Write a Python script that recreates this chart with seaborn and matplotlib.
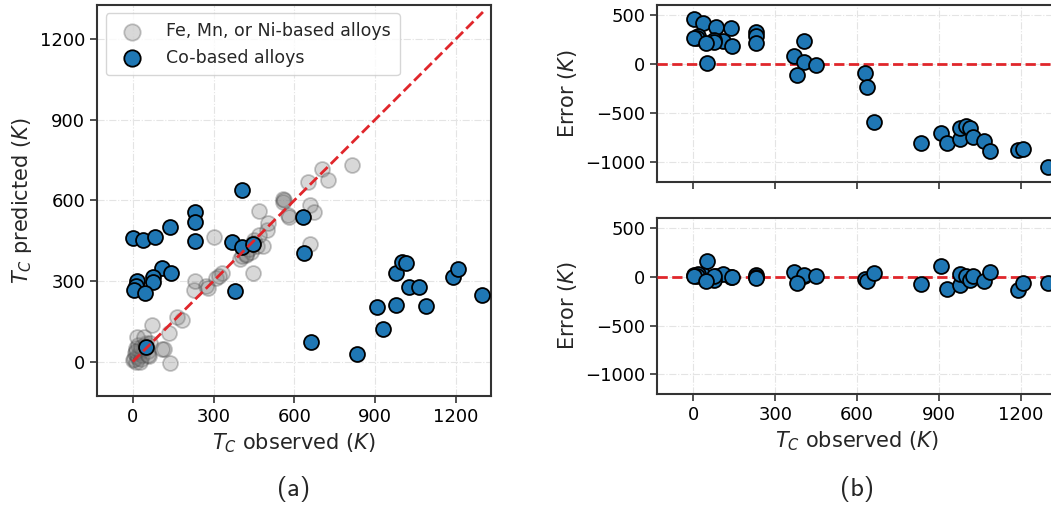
import numpy as np
import pandas as pd
import matplotlib
matplotlib.use("Agg")
import matplotlib.pyplot as plt
import seaborn as sns

# ---------------- data ----------------
# Co-based alloys: observed Tc, predicted Tc (model a), error of refined model (b, bottom)
co_obs = [2, 37, 83, 138, 231, 231, 231, 405, 367, 405, 448, 630, 637, 108, 142,
          76, 75, 16, 12, 4, 45, 380, 49, 661, 834, 908, 928, 976, 977, 998,
          1014, 1025, 1064, 1087, 1190, 1209, 1298]
co_pred = [459, 452, 462, 500, 555, 520, 449, 638, 446, 427, 437, 539, 403, 347, 329,
           316, 297, 300, 281, 266, 254, 264, 56, 71, 27, 202, 121, 211, 329, 372,
           368, 279, 277, 207, 316, 343, 248]
co_err2 = [17, 20, 7, 0, 17, 0, -10, 7, 51, 20, 7, -20, -45, 24, -5,
           -33, 5, 25, 10, 5, -45, -67, 162, 34, -77, 111, -124, -84, 27, 10,
           -33, 7, -40, 51, -134, -67, -67]

# Fe, Mn, or Ni-based alloys
fe_obs = [0, 5, 10, 15, 20, 8, 25, 30, 35, 40, 12, 20, 45, 55, 60, 30, 50, 16, 40, 65,
          72, 134, 115, 137, 164, 183, 108, 226, 232, 272, 278, 301, 307, 331, 320,
          398, 405, 420, 439, 445, 451, 460, 482, 497, 503, 468, 557, 557, 575, 562,
          581, 656, 674, 656, 650, 701, 724, 812, 430, 445, 470, 420, 25, 10, 55]
fe_pred = [5, 10, 0, 20, 15, 30, 35, 10, 25, 45, 50, 60, 60, 40, 20, 55, 70, 90, 93, 68,
           136, 106, 48, -6, 167, 155, 46, 267, 300, 281, 274, 465, 310, 329, 320,
           381, 391, 400, 407, 331, 452, 430, 428, 490, 514, 561, 604, 595, 545, 601,
           537, 583, 556, 436, 669, 715, 677, 731, 420, 440, 470, 395, 0, 40, 25]

xticks = [0, 300, 600, 900, 1200]
yticks_a = [0, 300, 600, 900, 1200]
yticks_b = [-1000, -500, 0, 500]

co = pd.DataFrame({"obs": co_obs, "pred": co_pred})
co["err1"] = co["pred"] - co["obs"]
co["err2"] = co_err2
fe = pd.DataFrame({"obs": fe_obs, "pred": fe_pred})

# ---------------- style ----------------
sns.set_style("ticks")
plt.rcParams["font.family"] = ["DejaVu Sans"]
plt.rcParams["mathtext.fontset"] = "dejavusans"

BLUE = "#1f77b4"
RED = "#e0262b"
SPINE = "#333333"

fig = plt.figure(figsize=(10.51, 5.08), dpi=100)
axA = fig.add_axes([0.0923, 0.2205, 0.3749, 0.7702])
axB1 = fig.add_axes([0.6251, 0.6417, 0.3801, 0.3484])
axB2 = fig.add_axes([0.6251, 0.2244, 0.3801, 0.3465])


def style(ax):
    for s in ax.spines.values():
        s.set_color(SPINE)
        s.set_linewidth(1.5)
    ax.tick_params(direction="out", length=5, width=1.2, color=SPINE,
                   labelsize=13, labelcolor="black")
    ax.grid(True, linestyle="-.", color="#e4e4e4", linewidth=0.8)
    ax.set_axisbelow(True)


# ---------------- (a) ----------------
sns.scatterplot(data=fe, x="obs", y="pred", ax=axA, s=115, color="#808080",
                edgecolor="#404040", linewidth=1.3, alpha=0.3,
                label="Fe, Mn, or Ni-based alloys", zorder=3)
sns.scatterplot(data=co, x="obs", y="pred", ax=axA, s=115, color=BLUE,
                edgecolor="black", linewidth=1.3, label="Co-based alloys", zorder=4)
axA.plot([0, 1300], [0, 1300], linestyle="--", color=RED, lw=2, zorder=5)
axA.set_xlim(-133, 1330)
axA.set_ylim(-128, 1327)
axA.set_xticks(xticks)
axA.set_yticks(yticks_a)
axA.set_xlabel(r"$T_C$ observed ($K$)", fontsize=15)
axA.set_ylabel(r"$T_C$ predicted ($K$)", fontsize=15)
style(axA)
axA.legend(loc="upper left", fontsize=12.5, frameon=True, borderpad=0.5,
           handletextpad=1.0, edgecolor="#cccccc", markerscale=1.1)

# ---------------- (b) ----------------
for ax, col in [(axB1, "err1"), (axB2, "err2")]:
    sns.scatterplot(data=co, x="obs", y=col, ax=ax, s=115, color=BLUE,
                    edgecolor="black", linewidth=1.3, zorder=4, legend=False)
    ax.axhline(0, linestyle="--", color=RED, lw=2, zorder=3)
    ax.set_xlim(-133, 1330)
    ax.set_ylim(-1200, 600)
    ax.set_xticks(xticks)
    ax.set_yticks(yticks_b)
    ax.set_ylabel(r"Error ($K$)", fontsize=15)
    style(ax)

axB1.set_xlabel("")
axB1.set_xticklabels([])
axB2.set_xlabel(r"$T_C$ observed ($K$)", fontsize=15)

fig.text(0.2798, 1 - 489 / 508, "(a)", family="cmss10", fontsize=19,
         ha="center", va="center")
fig.text(0.8152, 1 - 489 / 508, "(b)", family="cmss10", fontsize=19,
         ha="center", va="center")

fig.savefig("out.png", dpi=100)
